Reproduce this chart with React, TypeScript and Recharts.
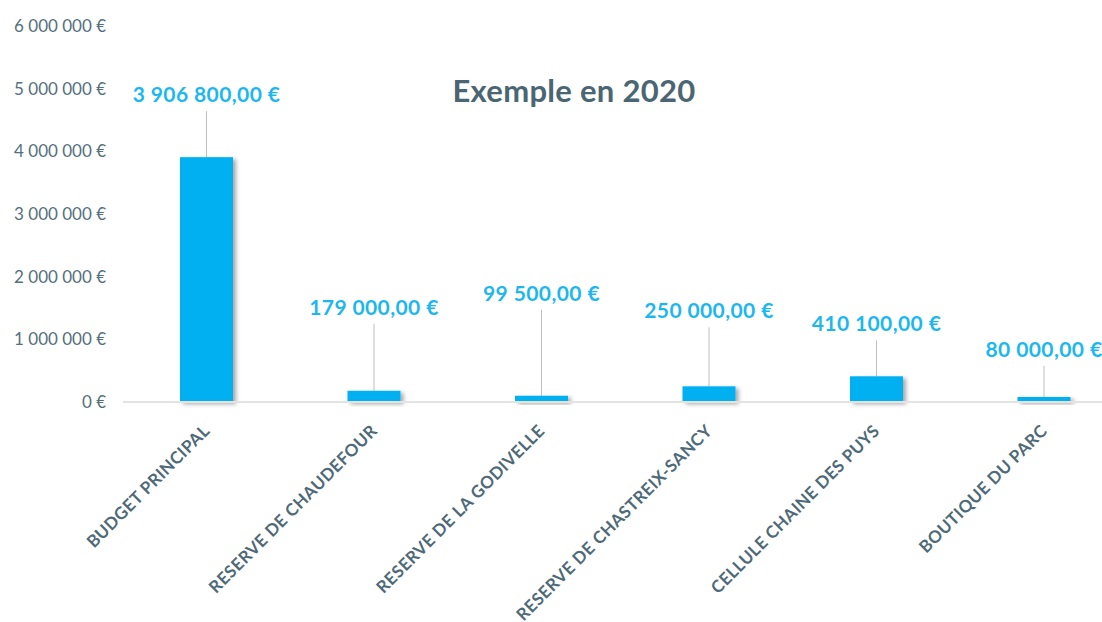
import { BarChart, Bar, XAxis, YAxis } from 'recharts';

const categories = [
  'BUDGET PRINCIPAL',
  'RESERVE DE CHAUDEFOUR',
  'RESERVE DE LA GODIVELLE',
  'RESERVE DE CHASTREIX-SANCY',
  'CELLULE CHAINE DES PUYS',
  'BOUTIQUE DU PARC',
];
const budgets = [3906800, 179000, 99500, 250000, 410100, 80000];
const yTicks = [0, 1000000, 2000000, 3000000, 4000000, 5000000, 6000000];

// how far each data label sits above its bar (px), placed by hand in the original
const labelRise = [62, 83, 102, 75, 52, 47];

const data = categories.map((name, i) => ({ name, value: budgets[i] }));

const BLUE = '#00B0F0';
const SLATE = '#4E6A78';
const FONT = 'Lato, "Open Sans", sans-serif';

const group = (v: number) => String(v).replace(/\B(?=(\d{3})+(?!\d))/g, ' ');
const axisEuro = (v: number) => `${group(v)} €`;
const labelEuro = (v: number) => `${group(v)},00 €`;

const XTick = ({ x, y, payload }: any) => (
  <g transform={`translate(${x + 4},${y + 30})`}>
    <text
      textAnchor="end"
      transform="rotate(-45)"
      fill={SLATE}
      fontSize={17}
      fontWeight={700}
      letterSpacing={0.4}
      fontFamily={FONT}
    >
      {payload.value}
    </text>
  </g>
);

const ShadowBar = ({ x, y, width, height, index }: any) => {
  const cx = x + width / 2;
  const labelY = y - labelRise[index];
  const id = `shadow-${index}`;
  return (
    <g>
      <defs>
        <filter id={id} x="-20%" y="-20%" width="160%" height="160%">
          <feDropShadow dx={3} dy={2} stdDeviation={2} floodColor="#000" floodOpacity={0.35} />
        </filter>
      </defs>
      <line x1={cx} y1={labelY + 16} x2={cx} y2={y} stroke="#BFBFBF" strokeWidth={1} />
      <rect x={x} y={y} width={width} height={height} fill={BLUE} filter={`url(#${id})`} />
      <text
        x={cx}
        y={labelY + 7}
        textAnchor="middle"
        fill="#1DB7F0"
        fontSize={21}
        fontWeight={700}
        letterSpacing={0.4}
        fontFamily={FONT}
      >
        {labelEuro(budgets[index])}
      </text>
    </g>
  );
};

export default function App() {
  return (
    <div
      style={{
        position: 'absolute',
        left: 0,
        top: 0,
        width: 1102,
        height: 622,
        overflow: 'hidden',
        background: '#fff',
      }}
    >
      <BarChart
        width={1140}
        height={622}
        data={data}
        margin={{ top: 26, right: 12, bottom: 0, left: 0 }}
        barSize={53}
      >
        <XAxis
          dataKey="name"
          interval={0}
          height={220}
          tickSize={0}
          tickMargin={0}
          tickLine={false}
          axisLine={{ stroke: '#E3E3E3', strokeWidth: 2 }}
          tick={<XTick />}
        />
        <YAxis
          width={123}
          domain={[0, 6000000]}
          ticks={yTicks}
          axisLine={false}
          tickLine={false}
          tickSize={0}
          tickMargin={17}
          tickFormatter={axisEuro}
          tick={{ fill: '#54707E', fontSize: 17, fontFamily: FONT }}
        />
        <Bar dataKey="value" shape={<ShadowBar />} isAnimationActive={false} />
      </BarChart>
      <div
        style={{
          position: 'absolute',
          left: 0,
          width: 1148,
          top: 71,
          textAlign: 'center',
          fontFamily: FONT,
          fontWeight: 700,
          fontSize: 31,
          letterSpacing: 0.3,
          color: '#4A6673',
          whiteSpace: 'nowrap',
        }}
      >
        Exemple en 2020
      </div>
    </div>
  );
}
